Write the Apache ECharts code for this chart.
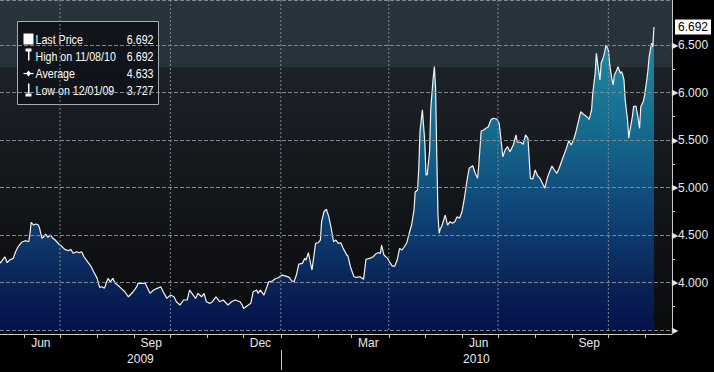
<!DOCTYPE html>
<html><head><meta charset="utf-8">
<script src="https://cdn.jsdelivr.net/npm/echarts@6/dist/echarts.min.js"></script>
<style>html,body{margin:0;padding:0;background:#000;}#c{width:714px;height:372px;}</style>
</head><body><div id="c"></div>
<script>
// ---- data ----
const dates = [
'2009-05-12','2009-05-14','2009-05-16','2009-05-18','2009-05-20','2009-05-23','2009-05-25','2009-05-27','2009-05-30',
'2009-06-02','2009-06-05','2009-06-06','2009-06-07','2009-06-09','2009-06-11','2009-06-13','2009-06-14','2009-06-16','2009-06-18','2009-06-19','2009-06-21','2009-06-23','2009-06-25','2009-06-27','2009-06-30',
'2009-07-02','2009-07-05','2009-07-08','2009-07-10','2009-07-12','2009-07-15','2009-07-17','2009-07-19','2009-07-21','2009-07-23','2009-07-25','2009-07-27','2009-07-29',
'2009-08-01','2009-08-03','2009-08-05','2009-08-07','2009-08-08','2009-08-10','2009-08-12','2009-08-14','2009-08-16','2009-08-19','2009-08-21','2009-08-24','2009-08-27','2009-08-31',
'2009-09-03','2009-09-04','2009-09-07','2009-09-10','2009-09-14','2009-09-17','2009-09-20','2009-09-23','2009-09-25','2009-09-28',
'2009-10-01','2009-10-04','2009-10-06','2009-10-09','2009-10-12','2009-10-15','2009-10-17','2009-10-19','2009-10-22','2009-10-24','2009-10-27','2009-10-29','2009-10-31',
'2009-11-03','2009-11-05','2009-11-08','2009-11-11','2009-11-14','2009-11-18','2009-11-21','2009-11-24','2009-11-28','2009-11-30',
'2009-12-01','2009-12-07','2009-12-09','2009-12-12','2009-12-13','2009-12-15','2009-12-18','2009-12-20','2009-12-22','2009-12-25','2009-12-27','2009-12-30',
'2010-01-02','2010-01-06','2010-01-08','2010-01-10','2010-01-12','2010-01-14','2010-01-16','2010-01-19','2010-01-21','2010-01-22','2010-01-24','2010-01-27','2010-01-30',
'2010-02-01','2010-02-03','2010-02-04','2010-02-06','2010-02-08','2010-02-10','2010-02-12','2010-02-14','2010-02-16','2010-02-18','2010-02-20','2010-02-22','2010-02-25','2010-02-26','2010-02-28',
'2010-03-03','2010-03-05','2010-03-08','2010-03-11','2010-03-13','2010-03-16','2010-03-19','2010-03-21','2010-03-23','2010-03-25','2010-03-26','2010-03-28','2010-03-31',
'2010-04-02','2010-04-04','2010-04-06','2010-04-08','2010-04-10','2010-04-12','2010-04-14','2010-04-16','2010-04-18','2010-04-20','2010-04-22','2010-04-23','2010-04-25','2010-04-26','2010-04-27','2010-04-29',
'2010-05-01','2010-05-02','2010-05-03','2010-05-05','2010-05-06','2010-05-08','2010-05-09','2010-05-10','2010-05-11','2010-05-12','2010-05-13','2010-05-14','2010-05-15','2010-05-18','2010-05-20','2010-05-22','2010-05-24','2010-05-26','2010-05-28','2010-05-30',
'2010-06-01','2010-06-03','2010-06-05','2010-06-07','2010-06-10','2010-06-12','2010-06-14','2010-06-15','2010-06-17','2010-06-19','2010-06-21','2010-06-23','2010-06-25','2010-06-27','2010-06-30',
'2010-07-02','2010-07-04','2010-07-05','2010-07-07','2010-07-09','2010-07-11','2010-07-14','2010-07-16','2010-07-17','2010-07-20','2010-07-22','2010-07-24','2010-07-26','2010-07-28','2010-07-30',
'2010-08-01','2010-08-03','2010-08-05','2010-08-08','2010-08-09','2010-08-11','2010-08-13','2010-08-15','2010-08-17','2010-08-19','2010-08-21','2010-08-24','2010-08-27','2010-08-29','2010-08-31',
'2010-09-02','2010-09-04','2010-09-06','2010-09-08','2010-09-10','2010-09-13','2010-09-15','2010-09-17','2010-09-18','2010-09-20','2010-09-21','2010-09-22','2010-09-24','2010-09-25','2010-09-27','2010-09-28','2010-09-29',
'2010-10-01','2010-10-02','2010-10-04','2010-10-05','2010-10-06','2010-10-08','2010-10-09','2010-10-11','2010-10-12','2010-10-13','2010-10-14','2010-10-15','2010-10-17','2010-10-18','2010-10-19','2010-10-21','2010-10-22','2010-10-24','2010-10-26','2010-10-27','2010-10-28','2010-10-30','2010-10-31',
'2010-11-02','2010-11-03','2010-11-04','2010-11-06','2010-11-07','2010-11-08'
];
const prices = [
4.202,4.237,4.272,4.209,4.237,4.255,4.325,4.377,4.424,
4.441,4.430,4.519,4.635,4.606,4.617,4.606,4.571,4.466,4.490,4.511,4.476,4.501,4.466,4.448,4.406,
4.385,4.350,4.335,4.350,4.308,4.325,4.314,4.325,4.272,4.237,4.202,4.167,4.114,
4.044,3.949,3.956,3.939,3.974,4.044,4.008,4.044,3.992,3.963,3.939,3.903,3.850,3.903,
3.956,3.992,3.992,3.992,3.886,3.921,3.939,3.956,3.903,3.833,
3.868,3.850,3.798,3.763,3.816,3.816,3.921,3.886,3.833,3.886,3.850,3.886,3.798,
3.781,3.798,3.850,3.798,3.816,3.763,3.798,3.816,3.798,3.760,
3.727,3.781,3.903,3.921,3.886,3.921,3.868,3.939,4.008,4.016,4.037,4.051,
4.079,4.065,4.055,4.019,4.008,4.079,4.195,4.202,4.255,4.237,4.314,4.132,4.413,
4.419,4.448,4.641,4.746,4.772,4.694,4.571,4.430,4.448,4.413,4.419,4.360,4.290,4.279,4.167,
4.061,4.055,4.061,4.034,4.245,4.255,4.272,4.300,4.314,4.308,4.395,4.290,4.255,
4.209,4.174,4.174,4.237,4.360,4.343,4.377,4.419,4.519,4.606,4.764,4.954,4.975,5.204,5.589,5.820,
5.484,5.133,5.133,5.379,5.836,6.152,6.275,6.047,5.344,4.711,4.519,4.571,4.588,4.711,4.606,4.641,4.624,4.641,4.694,4.677,
4.746,4.887,5.062,5.204,5.231,5.151,5.098,5.238,5.597,5.607,5.625,5.642,5.713,5.731,5.723,
5.678,5.449,5.326,5.397,5.431,5.379,5.457,5.555,5.478,5.478,5.457,5.555,5.520,5.098,5.091,
5.186,5.126,5.098,5.020,4.993,5.098,5.168,5.228,5.186,5.151,5.204,5.312,5.414,5.495,5.449,
5.502,5.589,5.695,5.800,5.776,5.748,5.720,5.818,5.994,6.205,6.416,6.310,6.134,6.310,6.380,6.433,6.503,
6.451,6.310,6.134,6.082,6.187,6.240,6.275,6.205,6.222,6.187,6.134,5.924,5.713,5.520,5.607,5.748,5.853,5.860,5.713,5.625,5.853,5.906,5.958,
6.134,6.240,6.380,6.521,6.485,6.692
];
const axisStart = '2009-05-12';
const axisEnd = '2010-11-23';
const monthLabels = ['Jun','Sep','Dec','Mar','Jun','Sep'];
const monthLabelDates = ['2009-06-15','2009-09-15','2009-12-15','2010-03-15','2010-06-15','2010-09-15'];
const quarterDates = ['2009-07-01','2009-10-01','2010-01-01','2010-04-01','2010-07-01','2010-10-01'];
const monthStarts = ['2009-06-01','2009-07-01','2009-08-01','2009-09-01','2009-10-01','2009-11-01','2009-12-01','2010-01-01','2010-02-01','2010-03-01','2010-04-01','2010-05-01','2010-06-01','2010-07-01','2010-08-01','2010-09-01','2010-10-01','2010-11-01'];
const yearLabels = ['2009','2010'];
const yearStarts = ['2010-01-01'];
const yTickLabels = [3.5,4.0,4.5,5.0,5.5,6.0,6.5];
const yMinorTicks = [3.75,4.25,4.75,5.25,5.75,6.25];
const yMin = 3.5, yMax = 6.977, yStep = 0.5;
const averageValue = 4.633;

// ---- build ----
const base = Date.UTC(2009,4,1);
const dayOf = s => Math.round((Date.parse(s) - base) / 86400000);
const seriesData = dates.map((d,i) => [dayOf(d), prices[i]]);
const xMin = dayOf(axisStart), xMax = dayOf(axisEnd);
const labelDays = monthLabelDates.map(dayOf);
const yb = yearStarts.map(dayOf);
const yearEdges = [xMin].concat(yb, [xMax]);
const yearCenters = yearLabels.map((_,i) => (yearEdges[i]+yearEdges[i+1])/2);
const lastPrice = prices[prices.length-1];
let hi = 0, lo = 0;
prices.forEach((p,i)=>{ if(p>prices[hi]) hi=i; if(p<prices[lo]) lo=i; });
const fmtDate = s => s.slice(5,7)+'/'+s.slice(8,10)+'/'+s.slice(2,4);

const FONT = '"Liberation Sans", Arial, sans-serif';
const TXT = '13px ' + FONT;
const SX = 0.82;
const GRID_COLOR = '#80878f';

const chart = echarts.init(document.getElementById('c'), null, {renderer:'svg'});
const legendRows = [
  ['Last Price', lastPrice],
  ['High on ' + fmtDate(dates[hi]), prices[hi]],
  ['Average', averageValue],
  ['Low on ' + fmtDate(dates[lo]), prices[lo]]
];
const rowY = [18, 35, 52, 69];
const legendChildren = [
  {type:'rect', shape:{x:0,y:0,width:141,height:83}, style:{fill:'rgba(16,20,25,0.95)', stroke:'#a3abb3', lineWidth:1}},
  {type:'rect', shape:{x:6,y:12,width:10,height:11}, style:{fill:'#ffffff'}},
  {type:'rect', shape:{x:8,y:27,width:6,height:3}, style:{fill:'#ffffff'}},
  {type:'rect', shape:{x:10.5,y:29,width:1.5,height:10}, style:{fill:'#ffffff'}},
  {type:'line', shape:{x1:6,y1:52,x2:16,y2:52}, style:{stroke:'#ffffff', lineWidth:1.2}},
  {type:'polygon', shape:{points:[[11,49],[13.5,52],[11,55],[8.5,52]]}, style:{fill:'#ffffff'}},
  {type:'rect', shape:{x:10.5,y:62,width:1.5,height:10}, style:{fill:'#ffffff'}},
  {type:'rect', shape:{x:8,y:72,width:6,height:3}, style:{fill:'#ffffff'}}
];
legendRows.forEach((r,i)=>{
  legendChildren.push({type:'text', x:18, y:rowY[i], scaleX:SX, style:{x:0, y:0, text:r[0], fill:'#ffffff', font:TXT, align:'left', verticalAlign:'middle'}});
  legendChildren.push({type:'text', x:136, y:rowY[i], scaleX:SX, style:{x:0, y:0, text:r[1].toFixed(3), fill:'#ffffff', font:TXT, align:'right', verticalAlign:'middle'}});
});

// vertical grid lines as extra line series through the axes
const gridBase = {type:'line', xAxisIndex:0, yAxisIndex:0, symbol:'none', showSymbol:false, silent:true, z:5, clip:false};
const vGrid = quarterDates.map(d => Object.assign({}, gridBase, {
  lineStyle:{color:GRID_COLOR, type:[2,2], width:1}, data:[[dayOf(d),yMin],[dayOf(d),yMax]] }));

const option = {
  backgroundColor:'#000000',
  animation:false,
  grid:{left:0, top:0, right:42, bottom:42},
  graphic:[
    {type:'rect', left:0, top:0, z:-10, silent:true, shape:{x:0,y:0,width:672,height:334},
     style:{fill:{type:'linear', x:0,y:0,x2:0,y2:1, colorStops:[
       {offset:0,color:'#28343c'},{offset:0.2,color:'#27333b'},{offset:0.2,color:'#1c2229'},
       {offset:0.5,color:'#15191e'},{offset:0.75,color:'#0f1114'},{offset:1,color:'#0b0c0e'}]}}},
    {type:'group', left:17, top:21, z:100, children:legendChildren}
  ],
  xAxis:[
    {type:'value', min:xMin, max:xMax, position:'bottom', offset:4,
     axisLine:{show:true, lineStyle:{color:'#c8c8c8', width:1}},
     axisTick:{show:true, customValues:monthStarts.map(dayOf), length:4, lineStyle:{color:'#c8c8c8'}},
     axisLabel:{customValues:labelDays, formatter:v=>monthLabels[labelDays.indexOf(v)], color:'#e8e8e8', fontSize:12, fontFamily:FONT, margin:3},
     splitLine:{show:false}},
    {type:'value', min:xMin, max:xMax, position:'bottom', offset:20,
     axisLine:{show:false},
     axisTick:{show:true, customValues:yb, length:20, lineStyle:{color:'#c8c8c8'}},
     axisLabel:{customValues:yearCenters, formatter:v=>yearLabels[yearCenters.indexOf(v)], color:'#e8e8e8', fontSize:12, fontFamily:FONT, margin:3},
     splitLine:{show:false}}
  ],
  yAxis:[
    {type:'value', min:yMin, max:yMax, position:'right',
     axisLine:{show:true, lineStyle:{color:'#c8c8c8', width:1}},
     axisTick:{show:true, customValues:yMinorTicks, length:3, lineStyle:{color:'#c8c8c8'}},
     axisLabel:{customValues:yTickLabels, margin:0, color:'#e8e8e8', fontSize:12, fontFamily:FONT,
       formatter:v=> v===yMin ? '{a|▶}' : '{a|▶}' + v.toFixed(3),
       rich:{a:{fontSize:8, color:'#e8e8e8', fontFamily:'DejaVu Sans'}}},
     splitLine:{show:false}},
    {type:'value', min:yMin, max:yMax, position:'right',
     axisLine:{show:false}, axisTick:{show:false}, splitLine:{show:false},
     axisLabel:{customValues:[lastPrice], margin:3, formatter:v=>v.toFixed(3), color:'#000', backgroundColor:'#ffffff',
       padding:[2,3,1,3], fontSize:12, fontFamily:FONT}},
    {type:'value', min:yMin, max:yMax, interval:yStep, position:'right', z:5,
     axisLine:{show:false}, axisTick:{show:false}, axisLabel:{show:false},
     splitLine:{show:true, lineStyle:{color:GRID_COLOR, type:'dashed', width:1}}}
  ],
  series:[{
    type:'line', data:seriesData, xAxisIndex:0, yAxisIndex:0, showSymbol:false, symbol:'none', z:2,
    lineStyle:{color:'#f2f2f2', width:1.2},
    areaStyle:{origin:'start', opacity:1, color:{type:'linear', x:0,y:0,x2:0,y2:330, global:true, colorStops:[
      {offset:0,color:'#2295b0'},{offset:0.15,color:'#1c86a2'},{offset:0.4,color:'#156a8e'},
      {offset:0.65,color:'#0f4376'},{offset:0.85,color:'#0a2558'},{offset:1,color:'#04114a'}]}}
  }].concat(vGrid)
};
chart.setOption(option);
</script></body></html>
